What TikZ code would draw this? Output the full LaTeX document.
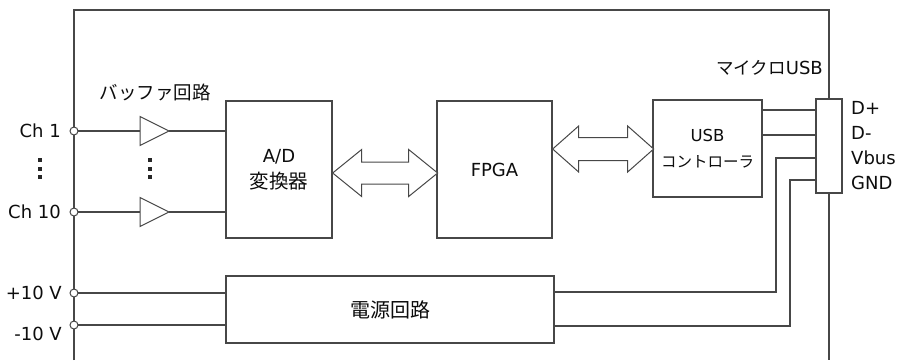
\documentclass[tikz,border=0pt]{standalone}
\usepackage{fontspec}
\setmainfont{DejaVu Sans}
\newfontfamily\jp{Noto Sans CJK JP}
\usetikzlibrary{positioning}

\begin{document}
\begin{tikzpicture}[x=1pt,y=-1pt,
    wire/.style={draw=black!72, line width=1.3pt},
    thin wire/.style={draw=black!72, line width=1pt, fill=white},
    block/.style={draw=black!72, line width=1.3pt, fill=white, inner sep=0pt, align=center,
        text=black!95, font=\fontsize{18}{26}\selectfont},
    lbl/.style={inner sep=0pt, text=black!95, font=\fontsize{18}{23}\selectfont},
    port/.style={draw=black!72, line width=1pt, fill=white}]
    \useasboundingbox (0,0) rectangle (899,360);
    % blocks
    \node[block, minimum width=106pt, minimum height=137pt] (AD) at (279,169.5) {A/D\\{\jp\fontsize{19.5}{26}\selectfont 変換器}};
    \node[block, minimum width=115pt, minimum height=137pt] (FPGA) at (494.5,169.5) {FPGA};
    \node[block, minimum width=109pt, minimum height=97pt] (USBC) at (707.5,148.5)
        {{\fontsize{16.5}{25}\selectfont USB}\\{\jp\fontsize{15.5}{25}\selectfont コントローラ}};
    \node[block, minimum width=26pt, minimum height=94pt] (conn) at (829,146) {};
    \node[block, minimum width=328pt, minimum height=67pt, font=\jp\fontsize{20}{26}\selectfont] (PWR) at (390,309.5) {電源回路};
    % frame
    \draw[wire] (74,360) -- (74,10) -- (829,10) -- (conn.north);
    \draw[wire] (conn.south) -- (829,360);
    % inputs and buffers
    \node[lbl, font=\jp\fontsize{18.5}{23}\selectfont] (buf) at (155,92) {バッファ回路};
    \foreach \n/\y in {1/131,10/212}{
        \coordinate (ch\n) at (74,\y);
        \draw[wire] (ch\n) -- (140,\y) (169,\y) -- (AD.west |- ch\n);
        \draw[thin wire] (140,\y-14.5) -- (169,\y) -- (140,\y+14.5) -- cycle;
        \node[lbl, anchor=east] (lch\n) at (61,\y) {Ch \n};
    }
    \foreach \x in {40,150}
        \foreach \y in {160,168.5,177}
            \fill[black!85] (\x-2,\y-2) rectangle (\x+2,\y+2);
    % power inputs
    \coordinate (vp) at (74,293);
    \coordinate (vm) at (74,325);
    \draw[wire] (vp) -- (PWR.west |- vp);
    \draw[wire] (vm) -- (PWR.west |- vm);
    \node[lbl, anchor=east] (lvp) at (62,293) {+10 V};
    \node[lbl, anchor=east] (lvm) at (62,334) {-10 V};
    \foreach \p in {ch1,ch10,vp,vm}
        \draw[port] (\p) circle (4pt);
    % buses
    \coordinate (b1) at (AD.east |- 0,173);
    \draw[thin wire] (b1) -- ++(29,-23.5) -- ++(0,12.5) -- ++(47,0) -- ++(0,-12.5) -- ++(29,23.5)
        -- ++(-29,23.5) -- ++(0,-12.5) -- ++(-47,0) -- ++(0,12.5) -- cycle;
    \coordinate (b2) at (FPGA.east |- 0,149);
    \draw[thin wire] (b2) -- ++(26,-23) -- ++(0,11.5) -- ++(49,0) -- ++(0,-11.5) -- ++(26,23)
        -- ++(-26,23) -- ++(0,-11.5) -- ++(-49,0) -- ++(0,11.5) -- cycle;
    % usb connector
    \draw[wire] (USBC.east |- 0,110) -- (conn.west |- 0,110);
    \draw[wire] (USBC.east |- 0,135) -- (conn.west |- 0,135);
    \draw[wire] (PWR.east |- 0,292) -- (776,292) -- (776,158) -- (conn.west |- 0,158);
    \draw[wire] (PWR.east |- 0,326) -- (790,326) -- (790,180) -- (conn.west |- 0,180);
    \node[lbl, anchor=east] (musb) at (823,68) {{\jp\fontsize{17.5}{23}\selectfont マイクロ}USB};
    \foreach \t/\y [count=\i] in {D+/108,D-/133,Vbus/158,GND/183}
        \node[lbl, anchor=west] (pin\i) at (851,\y) {\t};
\end{tikzpicture}
\end{document}
